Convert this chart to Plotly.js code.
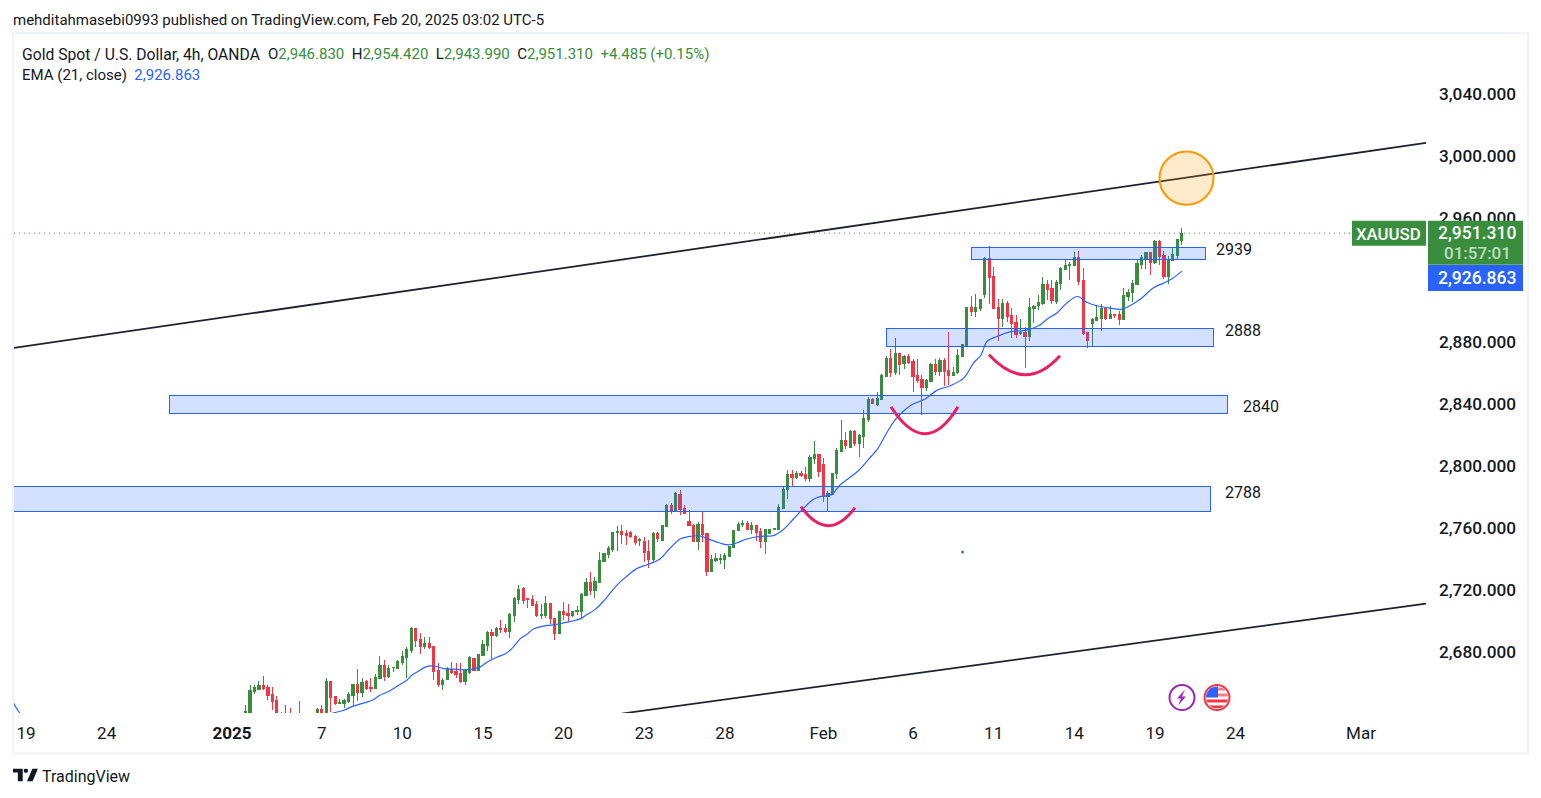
<!DOCTYPE html>
<html><head><meta charset="utf-8">
<script src="https://cdn.plot.ly/plotly-3.0.1.min.js"></script>
<style>html,body{margin:0;padding:0;background:#fff}#c{width:1541px;height:798px}
.boxlayer path{shape-rendering:crispEdges}</style></head>
<body><div id="c"></div>
<script>
// ---- data ----
const firstBar = 49; // bar number of the first candle (bar 0 = Dec 19)
const opens = [2641,2642.6,2655.9,2657.2,2659.8,2658.5,2654,2650.1,2640,2634,2640,2636,2639,2634,2637,2634,2639,2644.3,2639,2662.4,2652.7,2648.2,2648.2,2649.5,2653.3,2660.4,2655.3,2662.4,2658.5,2657.8,2664.3,2672.7,2665.6,2671.2,2670.7,2674.6,2677.8,2682.3,2696.5,2689.4,2684.9,2686.8,2684.9,2669.4,2660.4,2663.6,2670.1,2668.8,2667.5,2662.4,2668.2,2677.2,2669.4,2679.1,2685.5,2693.9,2692,2696.5,2696.5,2694.6,2704.9,2715.2,2722.3,2715.8,2715.2,2711.9,
2705,2704.8,2712.6,2702.9,2693.2,2707.4,2706.1,2704.8,2707.4,2707.4,2717.7,2726.1,2720.9,2726.1,2739.6,2744.1,2747.4,2758.3,2758.9,2757.7,2758.3,2755.7,2753.2,2752.5,2746,2740.9,2757.7,2753.2,2762.2,2775.7,2772.5,2782.8,2773.8,2765.4,2762.8,2752.5,2763.5,2757.7,2733.2,2740.3,2741.1,2740.9,2742.8,2748.6,2759.6,2763.5,2764.1,2760.2,2762.8,2758.9,2752.5,2757.7,2760.2,2760.2,
2773.7,2786,2795.6,2793.7,2796.3,2795.6,2793.1,2806,2808.5,2802.1,2781.5,2782.8,2796.3,2810.4,2817.5,2813,2823.3,2815.6,2820.1,2831,2844.4,2840.7,2843.9,2858.8,2870.4,2861.3,2873.6,2867.1,2871.6,2868.4,2859.4,2856.8,2851.7,2855.5,2866.5,2862,2869.1,2862.6,2859.4,2861.3,2871.6,
2878.7,2903.2,2900.6,2902.5,2911.6,2934.8,2923.2,2903.2,2896.1,2905.8,2898,2893.5,2886.7,2887.1,2884.5,2902.5,2904.5,2905.8,2918,2915.4,2907.1,2918.6,2927.7,2930.2,2930.2,2935.4,2920.6,2887.1,2892.9,2894.8,2896.1,2902.5,2896.1,2898.7,2898.7,2895.5,2910.3,2912.9,2918,2930.9,2934.1,2938.6,2932.2,2945.7,2936.7,2923.2,2933.5,2936.7,2946.83];
const highs = [2647.5,2660.4,2660.4,2663,2665.6,2660.2,2659.1,2652.7,2643,2647.5,2645.6,2640,2649.5,2640,2641,2640,2645.4,2646.9,2664.3,2663,2652.7,2651.4,2650.8,2655.9,2660.4,2670.1,2664.3,2663.6,2664.3,2666.9,2678.5,2675.9,2672.7,2672,2675.9,2682.3,2684.3,2697.8,2697.1,2693.9,2691.3,2691.3,2684.9,2674.6,2664.9,2672,2675.2,2674.6,2674.6,2670.7,2678.5,2677.2,2679.7,2688.8,2694.6,2695.9,2697.8,2702.3,2699.1,2706.2,2717.1,2724.8,2723.5,2716.5,2717.8,2714.5,
2712.6,2717.7,2713.2,2702.9,2707.4,2713.9,2712.6,2707.4,2711.3,2719.7,2729.3,2733.2,2730,2746,2744.8,2749.9,2758.9,2762.8,2763.5,2760.2,2759.6,2757,2755.1,2755.7,2753.8,2758.9,2758.9,2762.8,2777,2777.6,2784.7,2786,2776.3,2773.1,2764.1,2765.4,2772.5,2758.3,2744.1,2745.4,2744.8,2745.4,2749.9,2760.2,2765.4,2766.7,2766,2765.4,2763.5,2761.5,2760.2,2760.2,2760.9,2777,
2788.6,2798.9,2798.9,2798.2,2798.2,2800.8,2808.5,2817.5,2809.2,2806.6,2785.3,2796.3,2813,2831,2823.3,2824.6,2824.6,2822,2837.5,2845.9,2845.2,2849.1,2860.7,2872.3,2876.8,2883.9,2873.6,2872.9,2873.6,2870.4,2870.4,2860,2857.5,2867.8,2870.4,2871,2871,2887.7,2865.2,2876.8,2880,
2903.2,2910.9,2912.2,2908.3,2936,2943.1,2929.6,2909,2909,2907.7,2903.2,2898.7,2896.1,2891,2909.6,2905.1,2911.6,2923.2,2921.2,2921.2,2921.2,2929.6,2934.1,2932.8,2939.3,2939.9,2929,2887.7,2896.8,2905.1,2905.8,2903.8,2904.5,2899.3,2901.3,2916.1,2915.4,2921.2,2934.1,2937.3,2939.3,2939.3,2947,2947,2939.9,2936.7,2941.8,2947,2954.42];
const lows = [2640,2641.8,2654.2,2656.6,2656.6,2650.3,2643.7,2634,2633,2631,2632,2632,2631,2630,2632,2631,2636,2636,2636,2642.4,2646.9,2647.6,2645.6,2648.8,2646.3,2649.5,2652.1,2657.2,2655.9,2657.8,2664.3,2663,2664.9,2668.8,2670.7,2673.3,2664.3,2681,2684.9,2679.8,2683.6,2683,2663.6,2659.1,2657.2,2663.6,2667.5,2664.3,2661.1,2659.8,2666.9,2669.4,2669.4,2679.1,2682.3,2676.5,2691.3,2693.3,2693.9,2690.1,2700.4,2712.6,2712.6,2710,2711.3,2704.2,
2702.9,2703.6,2699.7,2689.4,2693.2,2702.3,2701.6,2704.2,2705.5,2703.6,2717.7,2718.4,2716.4,2726.1,2739.6,2742.2,2746.1,2746.7,2751.2,2750.6,2754.9,2750.6,2749.9,2739.6,2735.8,2739.6,2752.5,2753.2,2762.2,2770.5,2772.5,2769.9,2770.5,2762.8,2752.5,2747.4,2752.5,2730.6,2733.2,2739.6,2738.3,2735.1,2742.8,2748.6,2759.6,2762.2,2760.2,2757.7,2753.2,2748.6,2744.8,2757.7,2759.8,2760.2,
2773.7,2780.2,2788.6,2793.1,2794.4,2791.8,2791.1,2802.7,2794.4,2778.2,2772.5,2782.8,2793.1,2810.4,2812.4,2813,2813.9,2807.2,2813,2829.8,2841.4,2840.1,2843.9,2858.8,2858.8,2860,2860,2863.9,2867.1,2849.1,2854.9,2834.3,2849.7,2855.5,2860,2859.4,2853,2853.6,2859.4,2860.7,2871.6,
2878.7,2898,2897.4,2901.3,2909.6,2905.8,2902.5,2881.9,2891,2894.2,2883.9,2883.9,2885.8,2864.5,2881.9,2893.5,2901.9,2905.1,2908.3,2905.8,2905.8,2914.8,2927.7,2921.2,2930.2,2918,2885.8,2877.4,2878.7,2894.8,2888.4,2895.5,2896.1,2896.8,2892.2,2895.5,2907.7,2907.1,2918,2928.3,2928.3,2924.4,2931.5,2930.9,2921.9,2918.6,2933.5,2934.1,2943.99];
const closes = [2643,2656.6,2658.5,2659.8,2657.8,2653.3,2649.5,2638,2636,2640,2636,2638,2634,2637,2634,2638,2644.3,2638,2662.4,2652.1,2648.2,2648.6,2650.1,2654,2660.4,2655.3,2661.7,2657.8,2658.1,2664.9,2672.7,2665.6,2670.7,2671.6,2675.2,2678.5,2683,2696.5,2688.8,2684.9,2686.8,2684.3,2668.8,2660.4,2663,2670.7,2668.2,2666.9,2662.4,2669.4,2677.8,2669.4,2679.7,2686.2,2693.9,2692,2696.5,2696.1,2694.3,2705.5,2715.8,2721.6,2714.5,2715.2,2711.3,2704.9,
2705.5,2712.6,2702.9,2693.2,2707.4,2705.5,2704.8,2707.4,2708,2718.4,2726.1,2720.9,2726.7,2740.3,2744.8,2748,2758.3,2758.9,2757.4,2756.4,2755.5,2751.9,2753.8,2745.6,2740.9,2757.7,2754.4,2762.8,2775.7,2772.5,2783.4,2773.1,2770.5,2762.8,2752.5,2763.5,2757,2733.2,2740.9,2741.6,2741.6,2743.5,2749.3,2759.6,2763.5,2763.9,2760.2,2762.8,2758.3,2752.5,2760.2,2760.2,2760.9,2774.4,
2786,2795.6,2793.7,2796.3,2795,2793.1,2806.6,2808.5,2797.6,2781.5,2783.4,2796.3,2811.1,2817.5,2814.3,2823.3,2815.6,2820.8,2831.7,2843.9,2841.8,2844.6,2859.4,2870.4,2861.3,2873.6,2866.5,2871.6,2867.8,2858.8,2856.2,2851.7,2856.2,2866.5,2862,2869.1,2862,2859.4,2861.3,2872.3,2879.4,
2903.2,2900.6,2903.2,2908.3,2934.8,2922.5,2902.5,2896.1,2905.8,2897.4,2892.9,2885.8,2887.1,2884.5,2903.2,2903.8,2906.4,2918,2914.8,2907.7,2919.3,2928.3,2930.2,2930.9,2935.4,2920,2886.4,2881.9,2895.5,2896.8,2902.5,2896.1,2898.7,2898,2895.5,2910.9,2912.9,2918.6,2931.5,2935.4,2938.6,2932.2,2945.7,2936,2923.2,2933.5,2937.3,2947,2951.31];
const emaBars = [-3,-1.5,0,20,55,68.3,70.8,73.1,75.3,77.5,78.9,80.9,83.1,85,86.1,87.6,89.1,90.2,91.3,93.2,95.4,97.6,99.8,101.3,102.8,105.1,107.3,108.8,110.3,111.8,113.2,115.5,117.7,119.6,121.4,123.7,125.2,127,128.9,131.8,134.1,136.3,138.9,141.5,143.8,146,147.8,150.4,152.7,154.9,156.8,158.6,160.9,163.8,166.8,169,171.3,173.5,175.7,177.2,179.8,181.7,185.8,188,190.2,192.1,194,195.8,197.7,200.7,203.3,206.3,209.3,211.5,213.2,214.5,216.7,219.6,223.4,226,228.2,230.1,232.3,234.7,236.8,239,242,244.6,246.4,249,251.6,253.9,255.7,258];
const emaValues = [2649.5,2642.4,2637,2630,2633,2641.9,2643.7,2646.5,2648.4,2650.6,2653.3,2655.9,2659.8,2663.2,2666.4,2669,2671.6,2672.4,2672.2,2670.7,2670.3,2669.9,2670.3,2671.6,2674.6,2678,2680.8,2684.7,2689.8,2692.8,2696,2698,2698.8,2699.9,2701,2702.7,2705.5,2708.7,2714.1,2724.2,2730.2,2735.1,2737.9,2741.3,2748.4,2754.2,2755.7,2756.2,2753.8,2751.6,2750.4,2751.6,2754.2,2755.9,2756.4,2760.2,2767.1,2773.8,2779.6,2781.5,2782.8,2789,2798.2,2805.3,2812.8,2822.5,2831,2836.4,2840.7,2844.4,2850,2853,2857.9,2867.6,2872.9,2881.5,2884.7,2887.7,2888.8,2891.6,2896.5,2899.8,2906.2,2910.5,2906.8,2904.5,2903,2902.3,2904.5,2909.4,2915.9,2919.1,2921.7,2926.86];
const xTickBars = [0,18,46,66,84,102,120,138,156,178,198,216,234,252,270,298];
const xTickLabels = ["19","24","<b>2025</b>","7","10","15","20","23","28","Feb","6","11","14","19","24","Mar"];
const yTicks = [2680,2720,2760,2800,2840,2880,2920,2960,3000,3040];
const upperLineBars = [-2.68,312.5], upperLinePrices = [2877.4,3009.5];
const lowerLineBars = [133,312.5], lowerLinePrices = [2641.7,2712.6];
const zoneLabels = ["2939","2888","2840","2788"];
const zoneTops = [2942.3,2890.1,2846.95,2787.9];
const zoneBottoms = [2934.5,2878.5,2835.35,2772.2];
const zoneStartBars = [211,192,32,-5];
const zoneEndBars = [263.2,265,268.3,264.3];
const lastPrice = 2951.31;

// ---- layout helpers (page pixels to paper fractions, used for drawing tools and labels) ----
const L=14,T=34,PW=1414,PH=679.5;
const X=p=>(p-L)/PW, Y=p=>1-(p-T)/PH;
const xr=[-2.68,312.95], yr=[2642.06,3079.66];
const G='#388e3c',R='#f23645',B='#2962ff',K='#131722';
const bars=opens.map((_,i)=>firstBar+i);
const FONT='Roboto, sans-serif';
function txt(x,y,text,o){const c=o&&o.xanchor==='center';return Object.assign({xref:'paper',yref:'paper',x:X(c?x:x-2),y:Y(y+1),text,showarrow:false,xanchor:'left',yanchor:'middle',font:{family:FONT,size:15,color:K}},o||{});}
function rect(x0,y0,x1,y1,o){return Object.assign({type:'rect',xref:'paper',yref:'paper',x0:X(x0),x1:X(x1),y0:Y(y1),y1:Y(y0),line:{width:0}},o||{});}
function arc(x0,y0,xm,ym,x1,y1){const cx=2*xm-(x0+x1)/2,cy=2*ym-(y0+y1)/2;
 return {type:'path',xref:'paper',yref:'paper',path:`M ${X(x0)} ${Y(y0)} Q ${X(cx)} ${Y(cy)} ${X(x1)} ${Y(y1)}`,line:{color:'#e91e63',width:3}};}

const shapes=[
 {type:'line',xref:'x',yref:'y',x0:-2.68,x1:295.8,y0:lastPrice,y1:lastPrice,line:{color:G,width:1,dash:'1px,4px'},layer:'below'},
 {type:'line',xref:'x',yref:'y',x0:upperLineBars[0],x1:upperLineBars[1],y0:upperLinePrices[0],y1:upperLinePrices[1],line:{color:'#1e222d',width:1.8}},
 {type:'line',xref:'x',yref:'y',x0:lowerLineBars[0],x1:lowerLineBars[1],y0:lowerLinePrices[0],y1:lowerLinePrices[1],line:{color:'#1e222d',width:1.8}},
];
zoneLabels.forEach((_,i)=>shapes.push({type:'rect',xref:'x',yref:'y',x0:zoneStartBars[i],x1:zoneEndBars[i],y0:zoneBottoms[i],y1:zoneTops[i],fillcolor:'rgba(41,98,255,0.2)',line:{color:B,width:1}}));
shapes.push(arc(801,507,828,526,855,508),arc(891,407,925,434,958,407),arc(989,355,1025,375,1060,356));
shapes.push({type:'circle',xref:'paper',yref:'paper',x0:X(1159.5),x1:X(1213.5),y0:Y(205),y1:Y(151.5),fillcolor:'rgba(255,152,0,0.2)',line:{color:'#ff9800',width:2}});
shapes.push({type:'circle',xref:'paper',yref:'paper',x0:X(961),x1:X(964),y0:Y(554),y1:Y(551),fillcolor:'#2f7fb5',line:{width:0}});
shapes.push(rect(1352,221,1426,246,{fillcolor:G}),rect(1428,221,1523,265,{fillcolor:G}),rect(1428,265,1523,291,{fillcolor:B}));
shapes.push(rect(13,33,1528,754,{line:{color:'#f0f3fa',width:2}}));

const sp='&nbsp;&nbsp;';
const annotations=[
 txt(13,18.5,'mehditahmasebi0993 published on TradingView.com, Feb 20, 2025 03:02 UTC-5'),
 txt(22,53.5,'Gold Spot / U.S. Dollar, 4h, OANDA',{font:{family:FONT,size:15.7,color:K}}),
 txt(268,53.5,`O<span style="color:${G}">2,946.830</span>${sp}H<span style="color:${G}">2,954.420</span>${sp}L<span style="color:${G}">2,943.990</span>${sp}C<span style="color:${G}">2,951.310</span>${sp}<span style="color:${G}">+4.485 (+0.15%)</span>`),
 txt(22,74.5,`EMA (21, close)${sp}<span style="color:${B}">2,926.863</span>`),
 txt(1216,249,'2939',{font:{family:FONT,size:16,color:K}}),
 txt(1225,330,'2888',{font:{family:FONT,size:16,color:K}}),
 txt(1243,406,'2840',{font:{family:FONT,size:16,color:K}}),
 txt(1225,492,'2788',{font:{family:FONT,size:16,color:K}}),
 txt(1388.5,233,'XAUUSD',{xanchor:'center',font:{family:FONT,size:16.8,color:'#fff',weight:500}}),
 txt(1477.5,232,'2,951.310',{xanchor:'center',font:{family:FONT,size:17.5,color:'#fff',weight:500}}),
 txt(1477.5,252,'01:57:01',{xanchor:'center',font:{family:FONT,size:17,color:'rgba(255,255,255,0.7)',weight:500}}),
 txt(1477.5,277,'2,926.863',{xanchor:'center',font:{family:FONT,size:17.5,color:'#fff',weight:500}}),
 txt(42,776,'TradingView',{font:{family:FONT,size:16,color:K}}),
];
const svg=s=>'data:image/svg+xml;utf8,'+encodeURIComponent(s);
const logo=svg('<svg xmlns="http://www.w3.org/2000/svg" viewBox="0 0 36 19" preserveAspectRatio="none"><path fill="#131722" d="M14 0H0v6h7v13h7V0zM28 19h-8L28 0h8zM18.5 0a3.2 3.2 0 1 1 0 6.4 3.2 3.2 0 0 1 0-6.4z"/></svg>');
const bolt=svg('<svg xmlns="http://www.w3.org/2000/svg" viewBox="0 0 28 28"><circle cx="14" cy="14" r="12.5" fill="#fff" stroke="#9c27b0" stroke-width="2"/><path fill="#9c27b0" d="M17 6 9 15h4l-3 7 8-9h-4z"/></svg>');
const flag=svg('<svg xmlns="http://www.w3.org/2000/svg" viewBox="0 0 28 28"><defs><clipPath id="k"><circle cx="14" cy="14" r="11"/></clipPath></defs><g clip-path="url(#k)"><rect width="28" height="28" fill="#fff"/><rect y="4" width="28" height="3" fill="#f77c80"/><rect y="10" width="28" height="3" fill="#f77c80"/><rect y="16" width="28" height="3" fill="#f23645"/><rect y="22" width="28" height="3" fill="#f23645"/><rect width="15" height="14" fill="#2962ff"/></g><circle cx="14" cy="14" r="12.5" fill="none" stroke="#f23645" stroke-width="2"/></svg>');
const img=(src,x,y,w,h)=>({source:src,xref:'paper',yref:'paper',x:X(x),y:Y(y),sizex:w/PW,sizey:h/PH,sizing:'stretch',xanchor:'left',yanchor:'top',layer:'above'});

const data=[
 {type:'candlestick',x:bars,open:opens,high:highs,low:lows,close:closes,whiskerwidth:0,
  increasing:{line:{color:G,width:1},fillcolor:G},decreasing:{line:{color:R,width:1},fillcolor:R},hoverinfo:'skip'},
 {type:'scatter',mode:'lines',x:emaBars,y:emaValues,line:{color:B,width:1.2,shape:'spline'},hoverinfo:'skip'}
];
const layout={width:1541,height:798,autosize:false,showlegend:false,paper_bgcolor:'#fff',plot_bgcolor:'#fff',
 margin:{l:L,r:1541-L-PW,t:T,b:798-T-PH,pad:0},
 font:{family:FONT,color:K},
 xaxis:{type:'linear',range:xr,rangeslider:{visible:false},showgrid:false,zeroline:false,showline:false,ticks:'',
  tickmode:'array',tickvals:xTickBars,ticktext:xTickLabels,tickfont:{family:FONT,size:17,color:K},ticklabelstandoff:8,automargin:false},
 yaxis:{type:'linear',side:'right',range:yr,showgrid:false,zeroline:false,showline:false,ticks:'',
  tickmode:'array',tickvals:yTicks,tickformat:',.3f',tickfont:{family:FONT,size:17.2,color:K,weight:500},ticklabelstandoff:10,ticklabelshift:-2,automargin:false},
 shapes,annotations,
 images:[img(logo,13,769,25,13),img(bolt,1168,684,28,28),img(flag,1203,684,28,28)]
};
Plotly.newPlot('c',data,layout,{displayModeBar:false,staticPlot:true}).then(()=>{
 document.querySelectorAll('.shapelayer path').forEach(p=>{if((p.style.fill||'').indexOf('41, 98, 255')>=0)p.style.shapeRendering='crispEdges';});
});
</script></body></html>
